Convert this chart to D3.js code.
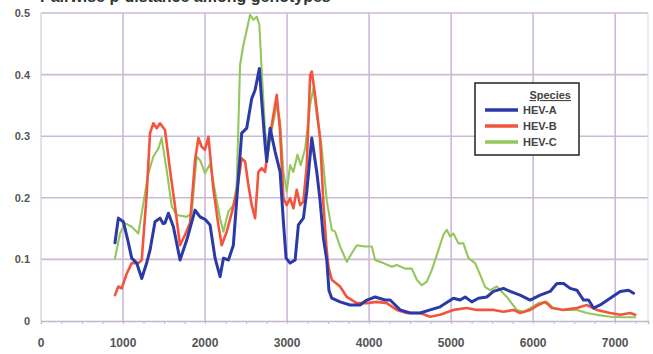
<!DOCTYPE html>
<html>
<head>
<meta charset="utf-8">
<script src="https://cdn.jsdelivr.net/npm/d3@7"></script>
<style>
  html, body { margin: 0; padding: 0; background: #fff; }
  svg { display: block; font-family: "Liberation Sans", Arial, sans-serif; }
</style>
</head>
<body>
<svg id="chart" width="653" height="354"></svg>
<script>
// Data (position, p-distance)
const seriesNames = ['HEV-A', 'HEV-B', 'HEV-C'];
const seriesColors = ['#2b3aa8', '#f2553c', '#93c75c'];

const hevA = [[902,0.127],[943,0.167],[1004,0.161],[1060,0.13],[1106,0.102],[1167,0.094],[1228,0.069],[1290,0.095],[1329,0.115],[1390,0.161],[1451,0.167],[1490,0.158],[1512,0.159],[1553,0.175],[1614,0.153],[1695,0.099],[1776,0.131],[1878,0.180],[1939,0.169],[2000,0.165],[2061,0.156],[2122,0.102],[2183,0.072],[2224,0.102],[2285,0.099],[2345,0.123],[2406,0.232],[2447,0.305],[2508,0.313],[2569,0.361],[2610,0.375],[2662,0.410],[2691,0.356],[2732,0.286],[2752,0.259],[2793,0.313],[2854,0.275],[2915,0.242],[2955,0.161],[2988,0.102],[3037,0.094],[3098,0.099],[3138,0.156],[3199,0.167],[3240,0.210],[3301,0.297],[3362,0.242],[3402,0.196],[3443,0.134],[3484,0.099],[3510,0.05],[3545,0.037],[3646,0.031],[3768,0.026],[3890,0.026],[3972,0.034],[4073,0.039],[4195,0.034],[4256,0.034],[4378,0.018],[4500,0.013],[4622,0.013],[4744,0.018],[4866,0.023],[5028,0.037],[5110,0.034],[5171,0.039],[5252,0.031],[5333,0.037],[5435,0.039],[5516,0.048],[5638,0.053],[5720,0.048],[5841,0.042],[5963,0.034],[6085,0.042],[6207,0.048],[6289,0.061],[6370,0.061],[6451,0.053],[6533,0.050],[6614,0.034],[6675,0.034],[6736,0.021],[6817,0.026],[6939,0.037],[7061,0.048],[7163,0.050],[7224,0.045]];

const hevB = [[902,0.042],[943,0.056],[984,0.053],[1045,0.077],[1106,0.094],[1187,0.094],[1228,0.099],[1289,0.207],[1329,0.305],[1370,0.321],[1411,0.313],[1451,0.321],[1512,0.310],[1573,0.245],[1634,0.186],[1695,0.123],[1756,0.140],[1817,0.159],[1878,0.261],[1919,0.297],[1959,0.283],[2000,0.278],[2041,0.299],[2101,0.215],[2162,0.156],[2203,0.123],[2264,0.145],[2325,0.175],[2386,0.210],[2447,0.264],[2488,0.259],[2528,0.221],[2569,0.188],[2610,0.167],[2650,0.242],[2691,0.248],[2732,0.242],[2772,0.286],[2813,0.318],[2874,0.367],[2915,0.307],[2955,0.199],[2996,0.188],[3037,0.199],[3077,0.183],[3118,0.213],[3159,0.188],[3199,0.194],[3240,0.253],[3281,0.399],[3301,0.405],[3341,0.367],[3402,0.297],[3443,0.190],[3480,0.12],[3504,0.088],[3545,0.067],[3646,0.056],[3728,0.039],[3850,0.029],[3972,0.029],[4093,0.031],[4215,0.029],[4337,0.018],[4459,0.013],[4622,0.013],[4744,0.007],[4866,0.010],[5028,0.018],[5191,0.021],[5313,0.018],[5516,0.018],[5638,0.015],[5760,0.018],[5841,0.013],[5963,0.018],[6065,0.026],[6146,0.031],[6228,0.021],[6370,0.018],[6533,0.021],[6654,0.026],[6776,0.018],[6939,0.013],[7061,0.010],[7183,0.013],[7244,0.010]];

const hevC = [[902,0.102],[963,0.142],[1024,0.159],[1106,0.153],[1187,0.142],[1248,0.191],[1309,0.240],[1370,0.267],[1431,0.280],[1471,0.297],[1532,0.245],[1594,0.186],[1655,0.172],[1776,0.169],[1837,0.175],[1898,0.267],[1939,0.261],[2000,0.240],[2061,0.255],[2122,0.210],[2183,0.167],[2224,0.145],[2285,0.178],[2345,0.188],[2386,0.221],[2427,0.416],[2467,0.448],[2508,0.472],[2549,0.497],[2589,0.489],[2630,0.494],[2662,0.481],[2691,0.405],[2732,0.307],[2772,0.275],[2813,0.310],[2874,0.351],[2915,0.324],[2955,0.242],[2996,0.210],[3037,0.253],[3077,0.242],[3126,0.270],[3167,0.253],[3220,0.280],[3281,0.351],[3321,0.378],[3362,0.334],[3423,0.280],[3484,0.195],[3545,0.148],[3585,0.145],[3646,0.121],[3728,0.096],[3789,0.110],[3850,0.123],[3951,0.121],[4033,0.121],[4073,0.099],[4175,0.094],[4277,0.088],[4337,0.091],[4439,0.085],[4520,0.085],[4582,0.067],[4642,0.058],[4703,0.064],[4765,0.083],[4845,0.115],[4906,0.140],[4947,0.148],[4988,0.137],[5028,0.142],[5089,0.126],[5150,0.126],[5211,0.102],[5293,0.094],[5354,0.075],[5415,0.055],[5476,0.050],[5557,0.056],[5679,0.039],[5801,0.018],[5882,0.015],[5963,0.021],[6065,0.029],[6167,0.031],[6248,0.021],[6370,0.018],[6533,0.018],[6654,0.013],[6776,0.010],[6939,0.007],[7102,0.006],[7244,0.006]];

const xTicks = [0, 1000, 2000, 3000, 4000, 5000, 6000, 7000];
const yTicks = [0, 0.1, 0.2, 0.3, 0.4, 0.5];
const titleText = 'Pairwise p-distance among genotypes';

//Setup
const svg = d3.select('#chart');
const gridColor = '#cdb8d8';
const labelColor = '#555';

const x = d3.scaleLinear().domain([0, 7400]).range([41, 648]);
const y = d3.scaleLinear().domain([0, 0.5]).range([321, 13]);

// title, cut off by the top edge like in the scan
svg.append('text')
    .attr('x', 40)
    .attr('y', 2)
    .attr('font-size', 16)
    .attr('font-weight', 'bold')
    .attr('fill', '#333')
    .text(titleText);

// grid
svg.append('g')
    .selectAll('line')
    .data(yTicks.filter(d => d > 0))
    .join('line')
    .attr('x1', x.range()[0]).attr('x2', x.range()[1])
    .attr('y1', d => y(d)).attr('y2', d => y(d))
    .attr('stroke', gridColor)
    .attr('stroke-width', 1.6);

svg.append('g')
    .selectAll('line')
    .data(xTicks.filter(d => d > 0))
    .join('line')
    .attr('x1', d => x(d)).attr('x2', d => x(d))
    .attr('y1', y(0.5)).attr('y2', y(0))
    .attr('stroke', gridColor)
    .attr('stroke-width', 1.6);

// left edge + right edge
svg.append('line')
    .attr('x1', x(0)).attr('x2', x(0))
    .attr('y1', y(0.5)).attr('y2', y(0))
    .attr('stroke', '#d6cadb').attr('stroke-width', 1.2);
svg.append('line')
    .attr('x1', x.range()[1]).attr('x2', x.range()[1])
    .attr('y1', y(0.5)).attr('y2', y(0))
    .attr('stroke', '#e2d8e6').attr('stroke-width', 1);

// x axis with minor ticks
const xAxis = d3.axisBottom(x)
    .tickValues(d3.range(0, 7401, 250))
    .tickSize(3)
    .tickFormat('');
const xAxisG = svg.append('g')
    .attr('transform', `translate(0, ${y(0)})`)
    .call(xAxis);
xAxisG.select('.domain').attr('stroke', '#c4b3cc').attr('stroke-width', 1.4);
xAxisG.selectAll('.tick line').attr('stroke', '#c4b3cc');

svg.append('g')
    .selectAll('text')
    .data(xTicks)
    .join('text')
    .attr('x', d => x(d))
    .attr('y', 347)
    .attr('text-anchor', 'middle')
    .attr('font-size', 12)
    .attr('font-weight', 'bold')
    .attr('fill', labelColor)
    .text(d => d);

svg.append('g')
    .selectAll('text')
    .data(yTicks)
    .join('text')
    .attr('x', 30)
    .attr('y', d => y(d) + 4)
    .attr('text-anchor', 'end')
    .attr('font-size', 11)
    .attr('font-weight', 'bold')
    .attr('fill', labelColor)
    .text(d => d === 0 ? '0' : d3.format('.1f')(d));

// lines, green first so blue sits on top
const line = d3.line(d => x(d[0]), d => y(d[1]));
const allSeries = [hevA, hevB, hevC];
const widths = [3, 2.6, 2.1];
[2, 1, 0].forEach(i => {
    svg.append('path')
        .datum(allSeries[i])
        .attr('fill', 'none')
        .attr('stroke', seriesColors[i])
        .attr('stroke-width', widths[i])
        .attr('stroke-linejoin', 'round')
        .attr('stroke-linecap', 'round')
        .attr('d', line);
});

// legend
const legend = svg.append('g').attr('transform', 'translate(475, 83)');
legend.append('rect')
    .attr('width', 104).attr('height', 72)
    .attr('fill', '#fff')
    .attr('stroke', '#222')
    .attr('stroke-width', 1.5);
legend.append('text')
    .attr('x', 96).attr('y', 16)
    .attr('text-anchor', 'end')
    .attr('font-size', 11)
    .attr('font-weight', 'bold')
    .attr('fill', '#444')
    .attr('text-decoration', 'underline')
    .text('Species');
seriesNames.forEach((name, i) => {
    const ly = 27 + i * 16;
    legend.append('line')
        .attr('x1', 10).attr('x2', 43)
        .attr('y1', ly).attr('y2', ly)
        .attr('stroke', seriesColors[i])
        .attr('stroke-width', 3.5);
    legend.append('text')
        .attr('x', 48).attr('y', ly + 4)
        .attr('font-size', 11)
        .attr('font-weight', 'bold')
        .attr('fill', '#444')
        .text(name);
});
</script>
</body>
</html>
